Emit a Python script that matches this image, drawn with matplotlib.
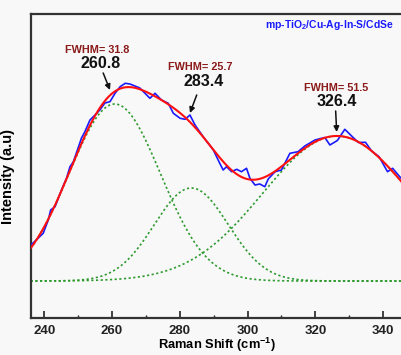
import numpy as np
import matplotlib
matplotlib.use("Agg")
import matplotlib.pyplot as plt
from matplotlib.ticker import MultipleLocator

plt.rcParams['font.family'] = ['Liberation Sans', 'DejaVu Sans']
plt.rcParams['font.weight'] = 'bold'
plt.rcParams['mathtext.fontset'] = 'custom'
plt.rcParams['mathtext.rm'] = 'Liberation Sans:bold'
plt.rcParams['mathtext.bf'] = 'Liberation Sans:bold'

# Measured Raman spectrum (arbitrary units)
raman_shift = [236.1, 239.7, 241.2, 241.9, 243.2, 245.1, 246.6, 247.6, 248.6, 250.0,
               251.0, 252.0, 253.5, 255.0, 256.4, 257.9, 259.4, 260.9, 262.4, 263.9,
               265.3, 268.2, 271.2, 272.7, 274.6, 276.6, 278.1, 280.1, 281.6, 283.0,
               284.5, 286.9, 289.9, 291.8, 292.8, 293.8, 295.3, 296.8, 298.2, 299.7,
               300.7, 302.2, 303.6, 305.1, 306.1, 308.1, 310.0, 312.5, 314.9, 316.9,
               319.9, 322.8, 324.3, 326.5, 328.7, 330.7, 332.7, 334.8, 336.6, 338.8,
               341.3, 342.8, 344.9, 347.0]
intensity = [36, 47.7, 61, 71, 74.3, 91, 103, 114.3, 119.3, 133,
             143, 149.3, 161, 166, 171, 178, 179.3, 187.7, 194.3, 197.7,
             197, 193, 182.7, 187.7, 181, 177.7, 167.7, 162.7, 161.7, 166,
             156, 144.3, 131, 117.7, 111, 114.3, 109.3, 111.7, 109.3, 112.7,
             102.7, 96, 97, 94.3, 102, 109.3, 111, 127.7, 129.3, 135,
             141, 143.5, 136, 140.5, 151.7, 145, 138.5, 138.7, 130, 124.3,
             109.3, 112.7, 104.3, 97]

# Fitted Gaussian components
peak_centers = [260.8, 283.4, 326.4]
peak_fwhm = [31.8, 25.7, 51.5]
peak_heights = [177, 93, 145]
baseline = 0.0

title_text = 'mp-TiO$_\\mathbf{2}$/Cu-Ag-In-S/CdSe'

fig = plt.figure(figsize=(4.01, 3.55), dpi=100, facecolor='#f8f8f8')
ax = fig.add_axes([31/401, 37/355, 386/401, 304/355])
ax.set_facecolor('#f8f8f8')

xg = np.linspace(236.0, 350.0, 600)
comps = []
for c, w, h in zip(peak_centers, peak_fwhm, peak_heights):
    s = w / (2 * np.sqrt(2 * np.log(2)))
    comps.append(baseline + h * np.exp(-(xg - c) ** 2 / (2 * s ** 2)))
fit = baseline + sum(cc - baseline for cc in comps)

for cc in comps:
    ax.plot(xg, cc, color='#2e9a2e', lw=1.2, linestyle=(0, (1.3, 1.5)), zorder=2)
ax.plot(raman_shift, intensity, color='#1a1aff', lw=1.2, zorder=3)
ax.plot(xg, fit, color='#ff1010', lw=1.5, zorder=4)

ax.set_xlim(236.1, 350)
ax.set_ylim(-37, 267)

ax.xaxis.set_major_locator(MultipleLocator(20))
ax.xaxis.set_minor_locator(MultipleLocator(10))
ax.tick_params(axis='x', which='major', direction='in', length=5, width=1.2,
               labelsize=9.5, pad=5, colors='#222222')
ax.tick_params(axis='x', which='minor', direction='in', length=2.5, width=1.0,
               colors='#222222')
ax.set_yticks([])
for sp in ['left', 'top', 'bottom']:
    ax.spines[sp].set_linewidth(1.6)
    ax.spines[sp].set_color('#333333')
ax.spines['right'].set_visible(False)

ax.set_xlabel('Raman Shift (cm$^{\\mathbf{-1}}$)', fontsize=9.3, fontweight='bold')
ax.xaxis.set_label_coords((217 - 31) / 386, -0.06)
ax.set_ylabel('Intensity (a.u)', fontsize=10.5, fontweight='bold')
ax.yaxis.set_label_coords(-0.042, 0.467)

ax.text(324.1, 256, title_text, color='#1a1aff', fontsize=7.5, fontweight='bold',
        ha='center', va='center')

fwhm_color = '#8b1a1a'
labels = [
    (255.6, 231, 256.7, 217, (259.4, 191), (257.4, 208)),
    (286.0, 214, 287.0, 199, (283.0, 168), (285.0, 186)),
    (326.0, 193, 326.3, 180, (326.3, 149), (326.0, 170)),
]
for (c, w), (fx, fy, px, py, tip, tail) in zip(zip(peak_centers, peak_fwhm), labels):
    ax.text(fx, fy, f'FWHM= {w}', color=fwhm_color, fontsize=7.8, fontweight='bold',
            ha='center', va='center')
    ax.text(px, py, f'{c}', color='#111111', fontsize=11.5, fontweight='bold',
            ha='center', va='center')
    ax.annotate('', xy=tip, xytext=tail,
                arrowprops=dict(arrowstyle='-|>', color='#111111', lw=1.1,
                                mutation_scale=8, shrinkA=0, shrinkB=0))

fig.savefig('out.png', dpi=100, facecolor=fig.get_facecolor())
